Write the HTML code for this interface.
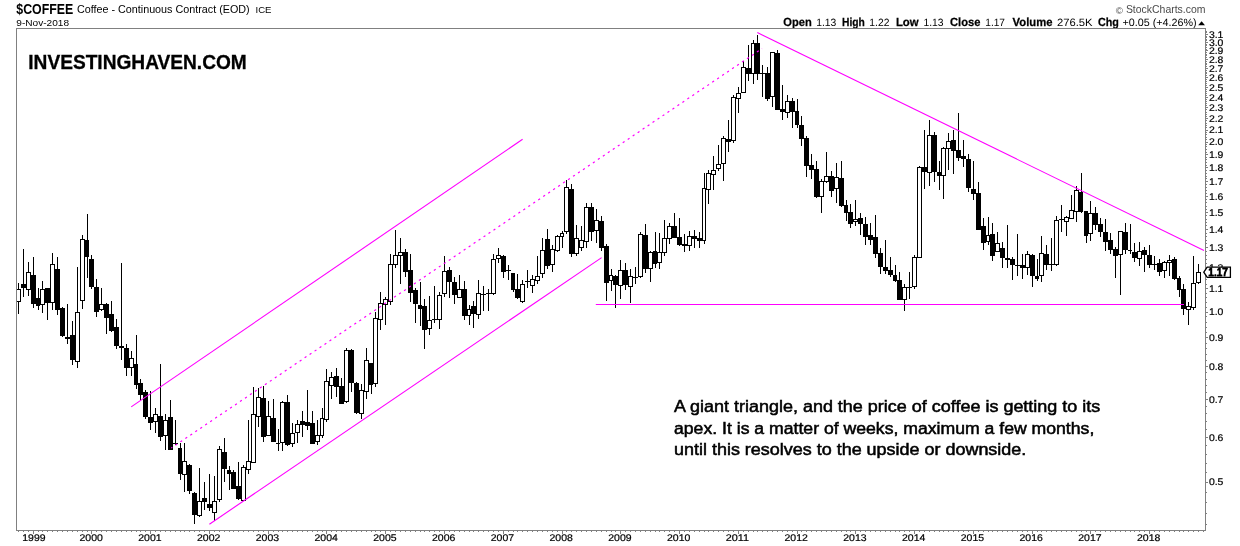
<!DOCTYPE html>
<html><head><meta charset="utf-8"><title>$COFFEE chart</title>
<style>html,body{margin:0;padding:0;background:#fff}svg{display:block}text{font-family:"Liberation Sans",Arial,sans-serif;fill:#000}</style>
</head><body>
<svg width="1240" height="546" viewBox="0 0 1240 546">
<rect width="1240" height="546" fill="#fff"/>
<text x="16.3" y="14" font-size="14.8" font-weight="bold" textLength="57" lengthAdjust="spacingAndGlyphs">$COFFEE</text>
<text x="76.9" y="13.2" font-size="11" textLength="172.8" lengthAdjust="spacingAndGlyphs">Coffee - Continuous Contract (EOD)</text>
<text x="255.5" y="13.2" font-size="9.8" textLength="16" lengthAdjust="spacingAndGlyphs">ICE</text>
<text x="16.3" y="25.6" font-size="9.3" textLength="52.8" lengthAdjust="spacingAndGlyphs">9-Nov-2018</text>
<text x="1115.8" y="13.5" font-size="8.8" style="fill:#4a4a4a" textLength="7.2" lengthAdjust="spacingAndGlyphs">©</text>
<text x="1125.9" y="12.6" font-size="10.8" style="fill:#4a4a4a" textLength="79.6" lengthAdjust="spacingAndGlyphs">StockCharts.com</text>
<text x="783.3" y="26.2" font-size="11.8" font-weight="bold" text-rendering="geometricPrecision" stroke="#000" stroke-width="0.25" textLength="28.4" lengthAdjust="spacingAndGlyphs">Open</text>
<text x="816.2" y="26.2" font-size="10.6" text-rendering="geometricPrecision" textLength="20.1" lengthAdjust="spacingAndGlyphs">1.13</text>
<text x="842" y="26.2" font-size="11.8" font-weight="bold" text-rendering="geometricPrecision" stroke="#000" stroke-width="0.25" textLength="22.8" lengthAdjust="spacingAndGlyphs">High</text>
<text x="869.3" y="26.2" font-size="10.6" text-rendering="geometricPrecision" textLength="20.1" lengthAdjust="spacingAndGlyphs">1.22</text>
<text x="895.9" y="26.2" font-size="11.8" font-weight="bold" text-rendering="geometricPrecision" stroke="#000" stroke-width="0.25" textLength="22.7" lengthAdjust="spacingAndGlyphs">Low</text>
<text x="923.5" y="26.2" font-size="10.6" text-rendering="geometricPrecision" textLength="20.1" lengthAdjust="spacingAndGlyphs">1.13</text>
<text x="950" y="26.2" font-size="11.8" font-weight="bold" text-rendering="geometricPrecision" stroke="#000" stroke-width="0.25" textLength="30.4" lengthAdjust="spacingAndGlyphs">Close</text>
<text x="985.3" y="26.2" font-size="10.6" text-rendering="geometricPrecision" textLength="19.7" lengthAdjust="spacingAndGlyphs">1.17</text>
<text x="1012.6" y="26.2" font-size="11.8" font-weight="bold" text-rendering="geometricPrecision" stroke="#000" stroke-width="0.25" textLength="39.8" lengthAdjust="spacingAndGlyphs">Volume</text>
<text x="1057" y="26.2" font-size="10.6" text-rendering="geometricPrecision" textLength="35.6" lengthAdjust="spacingAndGlyphs">276.5K</text>
<text x="1097.9" y="26.2" font-size="11.8" font-weight="bold" text-rendering="geometricPrecision" stroke="#000" stroke-width="0.25" textLength="20.9" lengthAdjust="spacingAndGlyphs">Chg</text>
<text x="1122.5" y="26.2" font-size="10.6" text-rendering="geometricPrecision" textLength="74.0" lengthAdjust="spacingAndGlyphs">+0.05 (+4.26%)</text>
<path d="M1198.2 25.3 L1205 25.3 L1201.6 21.2 Z" fill="#000"/>
<g shape-rendering="crispEdges">
<rect x="16.5" y="28.5" width="1189" height="502" fill="#fff" stroke="#808080" stroke-width="1"/>
<path d="M18.5 531V532M23.5 531V532M28.5 531V532M33.5 531V534M38.5 531V532M42.5 531V532M47.5 531V532M52.5 531V532M57.5 531V532M62.5 531V532M67.5 531V532M72.5 531V532M77.5 531V532M82.5 531V532M87.5 531V532M91.5 531V534M96.5 531V532M101.5 531V532M106.5 531V532M111.5 531V532M116.5 531V532M121.5 531V532M126.5 531V532M131.5 531V532M136.5 531V532M140.5 531V532M145.5 531V532M150.5 531V534M155.5 531V532M160.5 531V532M165.5 531V532M170.5 531V532M175.5 531V532M180.5 531V532M184.5 531V532M189.5 531V532M194.5 531V532M199.5 531V532M204.5 531V532M209.5 531V534M214.5 531V532M219.5 531V532M224.5 531V532M229.5 531V532M233.5 531V532M238.5 531V532M243.5 531V532M248.5 531V532M253.5 531V532M258.5 531V532M263.5 531V532M268.5 531V534M273.5 531V532M278.5 531V532M282.5 531V532M287.5 531V532M292.5 531V532M297.5 531V532M302.5 531V532M307.5 531V532M312.5 531V532M317.5 531V532M322.5 531V532M326.5 531V534M331.5 531V532M336.5 531V532M341.5 531V532M346.5 531V532M351.5 531V532M356.5 531V532M361.5 531V532M366.5 531V532M371.5 531V532M375.5 531V532M380.5 531V532M385.5 531V534M390.5 531V532M395.5 531V532M400.5 531V532M405.5 531V532M410.5 531V532M415.5 531V532M420.5 531V532M424.5 531V532M429.5 531V532M434.5 531V532M439.5 531V532M444.5 531V534M449.5 531V532M454.5 531V532M459.5 531V532M464.5 531V532M469.5 531V532M473.5 531V532M478.5 531V532M483.5 531V532M488.5 531V532M493.5 531V532M498.5 531V532M503.5 531V534M508.5 531V532M513.5 531V532M517.5 531V532M522.5 531V532M527.5 531V532M532.5 531V532M537.5 531V532M542.5 531V532M547.5 531V532M552.5 531V532M557.5 531V532M562.5 531V534M566.5 531V532M571.5 531V532M576.5 531V532M581.5 531V532M586.5 531V532M591.5 531V532M596.5 531V532M601.5 531V532M606.5 531V532M611.5 531V532M615.5 531V532M620.5 531V534M625.5 531V532M630.5 531V532M635.5 531V532M640.5 531V532M645.5 531V532M650.5 531V532M655.5 531V532M659.5 531V532M664.5 531V532M669.5 531V532M674.5 531V532M679.5 531V534M684.5 531V532M689.5 531V532M694.5 531V532M699.5 531V532M704.5 531V532M708.5 531V532M713.5 531V532M718.5 531V532M723.5 531V532M728.5 531V532M733.5 531V532M738.5 531V534M743.5 531V532M748.5 531V532M753.5 531V532M757.5 531V532M762.5 531V532M767.5 531V532M772.5 531V532M777.5 531V532M782.5 531V532M787.5 531V532M792.5 531V532M797.5 531V534M801.5 531V532M806.5 531V532M811.5 531V532M816.5 531V532M821.5 531V532M826.5 531V532M831.5 531V532M836.5 531V532M841.5 531V532M846.5 531V532M850.5 531V532M855.5 531V534M860.5 531V532M865.5 531V532M870.5 531V532M875.5 531V532M880.5 531V532M885.5 531V532M890.5 531V532M895.5 531V532M899.5 531V532M904.5 531V532M909.5 531V532M914.5 531V534M919.5 531V532M924.5 531V532M929.5 531V532M934.5 531V532M939.5 531V532M943.5 531V532M948.5 531V532M953.5 531V532M958.5 531V532M963.5 531V532M968.5 531V532M973.5 531V534M978.5 531V532M983.5 531V532M988.5 531V532M992.5 531V532M997.5 531V532M1002.5 531V532M1007.5 531V532M1012.5 531V532M1017.5 531V532M1022.5 531V532M1027.5 531V532M1032.5 531V534M1037.5 531V532M1041.5 531V532M1046.5 531V532M1051.5 531V532M1056.5 531V532M1061.5 531V532M1066.5 531V532M1071.5 531V532M1076.5 531V532M1081.5 531V532M1086.5 531V532M1090.5 531V534M1095.5 531V532M1100.5 531V532M1105.5 531V532M1110.5 531V532M1115.5 531V532M1120.5 531V532M1125.5 531V532M1130.5 531V532M1134.5 531V532M1139.5 531V532M1144.5 531V532M1149.5 531V534M1154.5 531V532M1159.5 531V532M1164.5 531V532M1169.5 531V532M1174.5 531V532M1179.5 531V532M1183.5 531V532M1188.5 531V532M1193.5 531V532M1198.5 531V532M1203.5 531V532" stroke="#808080" stroke-width="1" fill="none"/>
<path d="M1206 524.5H1207M1206 513.5H1207M1206 502.5H1207M1206 492.5H1207M1206 482.5H1208M1206 472.5H1207M1206 463.5H1207M1206 454.5H1207M1206 445.5H1207M1206 437.5H1208M1206 429.5H1207M1206 421.5H1207M1206 413.5H1207M1206 406.5H1207M1206 399.5H1208M1206 392.5H1207M1206 385.5H1207M1206 379.5H1207M1206 372.5H1207M1206 366.5H1208M1206 360.5H1207M1206 354.5H1207M1206 348.5H1207M1206 343.5H1207M1206 337.5H1208M1206 332.5H1207M1206 327.5H1207M1206 322.5H1207M1206 316.5H1207M1206 312.5H1208M1206 307.5H1207M1206 302.5H1207M1206 297.5H1207M1206 293.5H1207M1206 288.5H1208M1206 284.5H1207M1206 279.5H1207M1206 275.5H1207M1206 271.5H1207M1206 267.5H1208M1206 263.5H1207M1206 259.5H1207M1206 255.5H1207M1206 251.5H1207M1206 247.5H1208M1206 243.5H1207M1206 240.5H1207M1206 236.5H1207M1206 233.5H1207M1206 229.5H1208M1206 225.5H1207M1206 222.5H1207M1206 219.5H1207M1206 215.5H1207M1206 212.5H1208M1206 209.5H1207M1206 206.5H1207M1206 202.5H1207M1206 199.5H1207M1206 196.5H1208M1206 193.5H1207M1206 190.5H1207M1206 187.5H1207M1206 184.5H1207M1206 181.5H1208M1206 178.5H1207M1206 176.5H1207M1206 173.5H1207M1206 170.5H1207M1206 167.5H1208M1206 165.5H1207M1206 162.5H1207M1206 159.5H1207M1206 157.5H1207M1206 154.5H1208M1206 152.5H1207M1206 149.5H1207M1206 146.5H1207M1206 144.5H1207M1206 142.5H1208M1206 139.5H1207M1206 137.5H1207M1206 134.5H1207M1206 132.5H1207M1206 130.5H1208M1206 127.5H1207M1206 125.5H1207M1206 123.5H1207M1206 120.5H1207M1206 118.5H1208M1206 116.5H1207M1206 114.5H1207M1206 112.5H1207M1206 109.5H1207M1206 107.5H1208M1206 105.5H1207M1206 103.5H1207M1206 101.5H1207M1206 99.5H1207M1206 97.5H1208M1206 95.5H1207M1206 93.5H1207M1206 91.5H1207M1206 89.5H1207M1206 87.5H1208M1206 85.5H1207M1206 83.5H1207M1206 81.5H1207M1206 79.5H1207M1206 77.5H1208M1206 75.5H1207M1206 73.5H1207M1206 72.5H1207M1206 70.5H1207M1206 68.5H1208M1206 66.5H1207M1206 64.5H1207M1206 63.5H1207M1206 61.5H1207M1206 59.5H1208M1206 57.5H1207M1206 55.5H1207M1206 54.5H1207M1206 52.5H1207M1206 50.5H1208M1206 49.5H1207M1206 47.5H1207M1206 45.5H1207M1206 44.5H1207M1206 42.5H1208M1206 40.5H1207M1206 39.5H1207M1206 37.5H1207M1206 36.5H1207M1206 34.5H1208M1206 32.5H1207M1206 31.5H1207" stroke="#808080" stroke-width="1" fill="none"/>
</g>
<text x="22.3" y="541" font-size="9.7" text-rendering="geometricPrecision" stroke="#000" stroke-width="0.2" textLength="23.3" lengthAdjust="spacingAndGlyphs">1999</text>
<text x="79.5" y="541" font-size="9.7" text-rendering="geometricPrecision" stroke="#000" stroke-width="0.2" textLength="23.3" lengthAdjust="spacingAndGlyphs">2000</text>
<text x="138.3" y="541" font-size="9.7" text-rendering="geometricPrecision" stroke="#000" stroke-width="0.2" textLength="23.3" lengthAdjust="spacingAndGlyphs">2001</text>
<text x="197.0" y="541" font-size="9.7" text-rendering="geometricPrecision" stroke="#000" stroke-width="0.2" textLength="23.3" lengthAdjust="spacingAndGlyphs">2002</text>
<text x="255.8" y="541" font-size="9.7" text-rendering="geometricPrecision" stroke="#000" stroke-width="0.2" textLength="23.3" lengthAdjust="spacingAndGlyphs">2003</text>
<text x="314.5" y="541" font-size="9.7" text-rendering="geometricPrecision" stroke="#000" stroke-width="0.2" textLength="23.3" lengthAdjust="spacingAndGlyphs">2004</text>
<text x="373.3" y="541" font-size="9.7" text-rendering="geometricPrecision" stroke="#000" stroke-width="0.2" textLength="23.3" lengthAdjust="spacingAndGlyphs">2005</text>
<text x="432.0" y="541" font-size="9.7" text-rendering="geometricPrecision" stroke="#000" stroke-width="0.2" textLength="23.3" lengthAdjust="spacingAndGlyphs">2006</text>
<text x="490.8" y="541" font-size="9.7" text-rendering="geometricPrecision" stroke="#000" stroke-width="0.2" textLength="23.3" lengthAdjust="spacingAndGlyphs">2007</text>
<text x="549.5" y="541" font-size="9.7" text-rendering="geometricPrecision" stroke="#000" stroke-width="0.2" textLength="23.3" lengthAdjust="spacingAndGlyphs">2008</text>
<text x="608.3" y="541" font-size="9.7" text-rendering="geometricPrecision" stroke="#000" stroke-width="0.2" textLength="23.3" lengthAdjust="spacingAndGlyphs">2009</text>
<text x="667.0" y="541" font-size="9.7" text-rendering="geometricPrecision" stroke="#000" stroke-width="0.2" textLength="23.3" lengthAdjust="spacingAndGlyphs">2010</text>
<text x="725.8" y="541" font-size="9.7" text-rendering="geometricPrecision" stroke="#000" stroke-width="0.2" textLength="23.3" lengthAdjust="spacingAndGlyphs">2011</text>
<text x="784.5" y="541" font-size="9.7" text-rendering="geometricPrecision" stroke="#000" stroke-width="0.2" textLength="23.3" lengthAdjust="spacingAndGlyphs">2012</text>
<text x="843.3" y="541" font-size="9.7" text-rendering="geometricPrecision" stroke="#000" stroke-width="0.2" textLength="23.3" lengthAdjust="spacingAndGlyphs">2013</text>
<text x="902.0" y="541" font-size="9.7" text-rendering="geometricPrecision" stroke="#000" stroke-width="0.2" textLength="23.3" lengthAdjust="spacingAndGlyphs">2014</text>
<text x="960.8" y="541" font-size="9.7" text-rendering="geometricPrecision" stroke="#000" stroke-width="0.2" textLength="23.3" lengthAdjust="spacingAndGlyphs">2015</text>
<text x="1019.5" y="541" font-size="9.7" text-rendering="geometricPrecision" stroke="#000" stroke-width="0.2" textLength="23.3" lengthAdjust="spacingAndGlyphs">2016</text>
<text x="1078.3" y="541" font-size="9.7" text-rendering="geometricPrecision" stroke="#000" stroke-width="0.2" textLength="23.3" lengthAdjust="spacingAndGlyphs">2017</text>
<text x="1137.0" y="541" font-size="9.7" text-rendering="geometricPrecision" stroke="#000" stroke-width="0.2" textLength="23.3" lengthAdjust="spacingAndGlyphs">2018</text>
<text x="1208.9" y="485" font-size="9.7" text-rendering="geometricPrecision" stroke="#000" stroke-width="0.2" textLength="14.5" lengthAdjust="spacingAndGlyphs">0.5</text>
<text x="1208.9" y="441" font-size="9.7" text-rendering="geometricPrecision" stroke="#000" stroke-width="0.2" textLength="14.5" lengthAdjust="spacingAndGlyphs">0.6</text>
<text x="1208.9" y="403" font-size="9.7" text-rendering="geometricPrecision" stroke="#000" stroke-width="0.2" textLength="14.5" lengthAdjust="spacingAndGlyphs">0.7</text>
<text x="1208.9" y="370" font-size="9.7" text-rendering="geometricPrecision" stroke="#000" stroke-width="0.2" textLength="14.5" lengthAdjust="spacingAndGlyphs">0.8</text>
<text x="1208.9" y="341" font-size="9.7" text-rendering="geometricPrecision" stroke="#000" stroke-width="0.2" textLength="14.5" lengthAdjust="spacingAndGlyphs">0.9</text>
<text x="1208.9" y="315" font-size="9.7" text-rendering="geometricPrecision" stroke="#000" stroke-width="0.2" textLength="14.5" lengthAdjust="spacingAndGlyphs">1.0</text>
<text x="1208.9" y="292" font-size="9.7" text-rendering="geometricPrecision" stroke="#000" stroke-width="0.2" textLength="14.5" lengthAdjust="spacingAndGlyphs">1.1</text>
<text x="1208.9" y="271" font-size="9.7" text-rendering="geometricPrecision" stroke="#000" stroke-width="0.2" textLength="14.5" lengthAdjust="spacingAndGlyphs">1.2</text>
<text x="1208.9" y="251" font-size="9.7" text-rendering="geometricPrecision" stroke="#000" stroke-width="0.2" textLength="14.5" lengthAdjust="spacingAndGlyphs">1.3</text>
<text x="1208.9" y="233" font-size="9.7" text-rendering="geometricPrecision" stroke="#000" stroke-width="0.2" textLength="14.5" lengthAdjust="spacingAndGlyphs">1.4</text>
<text x="1208.9" y="216" font-size="9.7" text-rendering="geometricPrecision" stroke="#000" stroke-width="0.2" textLength="14.5" lengthAdjust="spacingAndGlyphs">1.5</text>
<text x="1208.9" y="200" font-size="9.7" text-rendering="geometricPrecision" stroke="#000" stroke-width="0.2" textLength="14.5" lengthAdjust="spacingAndGlyphs">1.6</text>
<text x="1208.9" y="185" font-size="9.7" text-rendering="geometricPrecision" stroke="#000" stroke-width="0.2" textLength="14.5" lengthAdjust="spacingAndGlyphs">1.7</text>
<text x="1208.9" y="171" font-size="9.7" text-rendering="geometricPrecision" stroke="#000" stroke-width="0.2" textLength="14.5" lengthAdjust="spacingAndGlyphs">1.8</text>
<text x="1208.9" y="158" font-size="9.7" text-rendering="geometricPrecision" stroke="#000" stroke-width="0.2" textLength="14.5" lengthAdjust="spacingAndGlyphs">1.9</text>
<text x="1208.9" y="145" font-size="9.7" text-rendering="geometricPrecision" stroke="#000" stroke-width="0.2" textLength="14.5" lengthAdjust="spacingAndGlyphs">2.0</text>
<text x="1208.9" y="133" font-size="9.7" text-rendering="geometricPrecision" stroke="#000" stroke-width="0.2" textLength="14.5" lengthAdjust="spacingAndGlyphs">2.1</text>
<text x="1208.9" y="122" font-size="9.7" text-rendering="geometricPrecision" stroke="#000" stroke-width="0.2" textLength="14.5" lengthAdjust="spacingAndGlyphs">2.2</text>
<text x="1208.9" y="111" font-size="9.7" text-rendering="geometricPrecision" stroke="#000" stroke-width="0.2" textLength="14.5" lengthAdjust="spacingAndGlyphs">2.3</text>
<text x="1208.9" y="101" font-size="9.7" text-rendering="geometricPrecision" stroke="#000" stroke-width="0.2" textLength="14.5" lengthAdjust="spacingAndGlyphs">2.4</text>
<text x="1208.9" y="91" font-size="9.7" text-rendering="geometricPrecision" stroke="#000" stroke-width="0.2" textLength="14.5" lengthAdjust="spacingAndGlyphs">2.5</text>
<text x="1208.9" y="81" font-size="9.7" text-rendering="geometricPrecision" stroke="#000" stroke-width="0.2" textLength="14.5" lengthAdjust="spacingAndGlyphs">2.6</text>
<text x="1208.9" y="72" font-size="9.7" text-rendering="geometricPrecision" stroke="#000" stroke-width="0.2" textLength="14.5" lengthAdjust="spacingAndGlyphs">2.7</text>
<text x="1208.9" y="63" font-size="9.7" text-rendering="geometricPrecision" stroke="#000" stroke-width="0.2" textLength="14.5" lengthAdjust="spacingAndGlyphs">2.8</text>
<text x="1208.9" y="54" font-size="9.7" text-rendering="geometricPrecision" stroke="#000" stroke-width="0.2" textLength="14.5" lengthAdjust="spacingAndGlyphs">2.9</text>
<text x="1208.9" y="46" font-size="9.7" text-rendering="geometricPrecision" stroke="#000" stroke-width="0.2" textLength="14.5" lengthAdjust="spacingAndGlyphs">3.0</text>
<text x="1208.9" y="38" font-size="9.7" text-rendering="geometricPrecision" stroke="#000" stroke-width="0.2" textLength="14.5" lengthAdjust="spacingAndGlyphs">3.1</text>
<g shape-rendering="crispEdges">
<rect x="18" y="283" width="1" height="31" fill="#000"/>
<rect x="16.5" y="289.5" width="4" height="12" fill="#fff" stroke="#000" stroke-width="1"/>
<rect x="23" y="249" width="1" height="48" fill="#000"/>
<rect x="21" y="284" width="5" height="4" fill="#000"/>
<rect x="28" y="262" width="1" height="34" fill="#000"/>
<rect x="26.5" y="272.5" width="4" height="17" fill="#fff" stroke="#000" stroke-width="1"/>
<rect x="33" y="257" width="1" height="51" fill="#000"/>
<rect x="31" y="275" width="5" height="29" fill="#000"/>
<rect x="38" y="288" width="1" height="22" fill="#000"/>
<rect x="36" y="298" width="4" height="8" fill="#000"/>
<rect x="42" y="281" width="1" height="32" fill="#000"/>
<rect x="40.5" y="289.5" width="4" height="15" fill="#fff" stroke="#000" stroke-width="1"/>
<rect x="47" y="288" width="1" height="32" fill="#000"/>
<rect x="45" y="288" width="5" height="15" fill="#000"/>
<rect x="52" y="253" width="1" height="57" fill="#000"/>
<rect x="50.5" y="264.5" width="4" height="38" fill="#fff" stroke="#000" stroke-width="1"/>
<rect x="57" y="257" width="1" height="58" fill="#000"/>
<rect x="55" y="269" width="5" height="41" fill="#000"/>
<rect x="62" y="307" width="1" height="30" fill="#000"/>
<rect x="60" y="308" width="5" height="28" fill="#000"/>
<rect x="67" y="304" width="1" height="40" fill="#000"/>
<rect x="65" y="337" width="5" height="2" fill="#000"/>
<rect x="72" y="321" width="1" height="44" fill="#000"/>
<rect x="70" y="335" width="5" height="25" fill="#000"/>
<rect x="77" y="267" width="1" height="101" fill="#000"/>
<rect x="75.5" y="312.5" width="4" height="49" fill="#fff" stroke="#000" stroke-width="1"/>
<rect x="82" y="235" width="1" height="74" fill="#000"/>
<rect x="80.5" y="239.5" width="4" height="61" fill="#fff" stroke="#000" stroke-width="1"/>
<rect x="87" y="214" width="1" height="64" fill="#000"/>
<rect x="85" y="240" width="4" height="17" fill="#000"/>
<rect x="91" y="255" width="1" height="34" fill="#000"/>
<rect x="89" y="259" width="5" height="28" fill="#000"/>
<rect x="96" y="279" width="1" height="38" fill="#000"/>
<rect x="94" y="287" width="5" height="25" fill="#000"/>
<rect x="101" y="288" width="1" height="23" fill="#000"/>
<rect x="99.5" y="304.5" width="4" height="5" fill="#fff" stroke="#000" stroke-width="1"/>
<rect x="106" y="303" width="1" height="31" fill="#000"/>
<rect x="104" y="304" width="5" height="14" fill="#000"/>
<rect x="111" y="301" width="1" height="31" fill="#000"/>
<rect x="109" y="314" width="5" height="17" fill="#000"/>
<rect x="116" y="319" width="1" height="30" fill="#000"/>
<rect x="114" y="327" width="5" height="19" fill="#000"/>
<rect x="121" y="263" width="1" height="97" fill="#000"/>
<rect x="119" y="346" width="5" height="2" fill="#000"/>
<rect x="126" y="344" width="1" height="32" fill="#000"/>
<rect x="124" y="348" width="5" height="20" fill="#000"/>
<rect x="131" y="351" width="1" height="25" fill="#000"/>
<rect x="129.5" y="358.5" width="4" height="9" fill="#fff" stroke="#000" stroke-width="1"/>
<rect x="136" y="335" width="1" height="54" fill="#000"/>
<rect x="134" y="364" width="4" height="21" fill="#000"/>
<rect x="140" y="379" width="1" height="21" fill="#000"/>
<rect x="138" y="383" width="5" height="12" fill="#000"/>
<rect x="145" y="390" width="1" height="29" fill="#000"/>
<rect x="143" y="392" width="5" height="25" fill="#000"/>
<rect x="150" y="391" width="1" height="39" fill="#000"/>
<rect x="148" y="417" width="5" height="6" fill="#000"/>
<rect x="155" y="408" width="1" height="25" fill="#000"/>
<rect x="153.5" y="414.5" width="4" height="7" fill="#fff" stroke="#000" stroke-width="1"/>
<rect x="160" y="364" width="1" height="77" fill="#000"/>
<rect x="158" y="416" width="5" height="21" fill="#000"/>
<rect x="165" y="414" width="1" height="36" fill="#000"/>
<rect x="163.5" y="420.5" width="4" height="15" fill="#fff" stroke="#000" stroke-width="1"/>
<rect x="170" y="400" width="1" height="50" fill="#000"/>
<rect x="168" y="417" width="5" height="33" fill="#000"/>
<rect x="175" y="420" width="1" height="25" fill="#000"/>
<rect x="173" y="443" width="5" height="1" fill="#000"/>
<rect x="180" y="443" width="1" height="37" fill="#000"/>
<rect x="178" y="448" width="4" height="26" fill="#000"/>
<rect x="184" y="443" width="1" height="49" fill="#000"/>
<rect x="182.5" y="461.5" width="4" height="13" fill="#fff" stroke="#000" stroke-width="1"/>
<rect x="189" y="464" width="1" height="30" fill="#000"/>
<rect x="187" y="465" width="5" height="26" fill="#000"/>
<rect x="194" y="492" width="1" height="32" fill="#000"/>
<rect x="192" y="493" width="5" height="22" fill="#000"/>
<rect x="199" y="468" width="1" height="49" fill="#000"/>
<rect x="197.5" y="501.5" width="4" height="14" fill="#fff" stroke="#000" stroke-width="1"/>
<rect x="204" y="482" width="1" height="28" fill="#000"/>
<rect x="202" y="498" width="5" height="4" fill="#000"/>
<rect x="209" y="474" width="1" height="37" fill="#000"/>
<rect x="207" y="504" width="5" height="4" fill="#000"/>
<rect x="214" y="476" width="1" height="45" fill="#000"/>
<rect x="212.5" y="501.5" width="4" height="11" fill="#fff" stroke="#000" stroke-width="1"/>
<rect x="219" y="446" width="1" height="56" fill="#000"/>
<rect x="217.5" y="449.5" width="4" height="50" fill="#fff" stroke="#000" stroke-width="1"/>
<rect x="224" y="438" width="1" height="44" fill="#000"/>
<rect x="222" y="452" width="5" height="17" fill="#000"/>
<rect x="229" y="466" width="1" height="24" fill="#000"/>
<rect x="227" y="470" width="4" height="4" fill="#000"/>
<rect x="233" y="470" width="1" height="19" fill="#000"/>
<rect x="231" y="472" width="5" height="17" fill="#000"/>
<rect x="238" y="462" width="1" height="38" fill="#000"/>
<rect x="236" y="486" width="5" height="13" fill="#000"/>
<rect x="243" y="465" width="1" height="36" fill="#000"/>
<rect x="241.5" y="467.5" width="4" height="33" fill="#fff" stroke="#000" stroke-width="1"/>
<rect x="248" y="420" width="1" height="54" fill="#000"/>
<rect x="246.5" y="461.5" width="4" height="8" fill="#fff" stroke="#000" stroke-width="1"/>
<rect x="253" y="387" width="1" height="76" fill="#000"/>
<rect x="251.5" y="414.5" width="4" height="48" fill="#fff" stroke="#000" stroke-width="1"/>
<rect x="258" y="388" width="1" height="39" fill="#000"/>
<rect x="256.5" y="397.5" width="4" height="19" fill="#fff" stroke="#000" stroke-width="1"/>
<rect x="263" y="386" width="1" height="56" fill="#000"/>
<rect x="261" y="398" width="5" height="39" fill="#000"/>
<rect x="268" y="401" width="1" height="35" fill="#000"/>
<rect x="266.5" y="416.5" width="4" height="19" fill="#fff" stroke="#000" stroke-width="1"/>
<rect x="273" y="399" width="1" height="43" fill="#000"/>
<rect x="271" y="418" width="5" height="24" fill="#000"/>
<rect x="278" y="429" width="1" height="22" fill="#000"/>
<rect x="276" y="443" width="4" height="1" fill="#000"/>
<rect x="282" y="401" width="1" height="50" fill="#000"/>
<rect x="280.5" y="402.5" width="4" height="40" fill="#fff" stroke="#000" stroke-width="1"/>
<rect x="287" y="395" width="1" height="51" fill="#000"/>
<rect x="285" y="402" width="5" height="43" fill="#000"/>
<rect x="292" y="423" width="1" height="24" fill="#000"/>
<rect x="290.5" y="433.5" width="4" height="10" fill="#fff" stroke="#000" stroke-width="1"/>
<rect x="297" y="420" width="1" height="23" fill="#000"/>
<rect x="295.5" y="424.5" width="4" height="8" fill="#fff" stroke="#000" stroke-width="1"/>
<rect x="302" y="411" width="1" height="26" fill="#000"/>
<rect x="300" y="421" width="5" height="4" fill="#000"/>
<rect x="307" y="390" width="1" height="40" fill="#000"/>
<rect x="305" y="422" width="5" height="4" fill="#000"/>
<rect x="312" y="411" width="1" height="33" fill="#000"/>
<rect x="310" y="423" width="5" height="21" fill="#000"/>
<rect x="317" y="420" width="1" height="25" fill="#000"/>
<rect x="315.5" y="435.5" width="4" height="6" fill="#fff" stroke="#000" stroke-width="1"/>
<rect x="322" y="408" width="1" height="30" fill="#000"/>
<rect x="320.5" y="418.5" width="3" height="17" fill="#fff" stroke="#000" stroke-width="1"/>
<rect x="326" y="369" width="1" height="53" fill="#000"/>
<rect x="324.5" y="381.5" width="4" height="38" fill="#fff" stroke="#000" stroke-width="1"/>
<rect x="331" y="372" width="1" height="27" fill="#000"/>
<rect x="329.5" y="377.5" width="4" height="8" fill="#fff" stroke="#000" stroke-width="1"/>
<rect x="336" y="368" width="1" height="29" fill="#000"/>
<rect x="334" y="376" width="5" height="11" fill="#000"/>
<rect x="341" y="378" width="1" height="26" fill="#000"/>
<rect x="339" y="386" width="5" height="18" fill="#000"/>
<rect x="346" y="348" width="1" height="55" fill="#000"/>
<rect x="344.5" y="350.5" width="4" height="51" fill="#fff" stroke="#000" stroke-width="1"/>
<rect x="351" y="349" width="1" height="43" fill="#000"/>
<rect x="349" y="350" width="5" height="33" fill="#000"/>
<rect x="356" y="382" width="1" height="32" fill="#000"/>
<rect x="354" y="383" width="5" height="30" fill="#000"/>
<rect x="361" y="384" width="1" height="35" fill="#000"/>
<rect x="359.5" y="390.5" width="4" height="23" fill="#fff" stroke="#000" stroke-width="1"/>
<rect x="366" y="348" width="1" height="51" fill="#000"/>
<rect x="364.5" y="360.5" width="4" height="31" fill="#fff" stroke="#000" stroke-width="1"/>
<rect x="371" y="363" width="1" height="31" fill="#000"/>
<rect x="369" y="363" width="4" height="22" fill="#000"/>
<rect x="375" y="312" width="1" height="75" fill="#000"/>
<rect x="373.5" y="318.5" width="4" height="65" fill="#fff" stroke="#000" stroke-width="1"/>
<rect x="380" y="292" width="1" height="38" fill="#000"/>
<rect x="378.5" y="303.5" width="4" height="16" fill="#fff" stroke="#000" stroke-width="1"/>
<rect x="385" y="297" width="1" height="28" fill="#000"/>
<rect x="383.5" y="299.5" width="4" height="5" fill="#fff" stroke="#000" stroke-width="1"/>
<rect x="390" y="254" width="1" height="51" fill="#000"/>
<rect x="388.5" y="264.5" width="4" height="37" fill="#fff" stroke="#000" stroke-width="1"/>
<rect x="395" y="230" width="1" height="38" fill="#000"/>
<rect x="393.5" y="255.5" width="4" height="9" fill="#fff" stroke="#000" stroke-width="1"/>
<rect x="400" y="238" width="1" height="46" fill="#000"/>
<rect x="398.5" y="252.5" width="4" height="3" fill="#fff" stroke="#000" stroke-width="1"/>
<rect x="405" y="249" width="1" height="28" fill="#000"/>
<rect x="403" y="252" width="5" height="20" fill="#000"/>
<rect x="410" y="254" width="1" height="48" fill="#000"/>
<rect x="408" y="270" width="5" height="23" fill="#000"/>
<rect x="415" y="288" width="1" height="35" fill="#000"/>
<rect x="413" y="290" width="5" height="14" fill="#000"/>
<rect x="420" y="282" width="1" height="44" fill="#000"/>
<rect x="418" y="305" width="4" height="4" fill="#000"/>
<rect x="424" y="299" width="1" height="50" fill="#000"/>
<rect x="422" y="306" width="5" height="24" fill="#000"/>
<rect x="429" y="296" width="1" height="39" fill="#000"/>
<rect x="427.5" y="320.5" width="4" height="8" fill="#fff" stroke="#000" stroke-width="1"/>
<rect x="434" y="286" width="1" height="37" fill="#000"/>
<rect x="432" y="319" width="5" height="1" fill="#000"/>
<rect x="439" y="292" width="1" height="37" fill="#000"/>
<rect x="437.5" y="295.5" width="4" height="24" fill="#fff" stroke="#000" stroke-width="1"/>
<rect x="444" y="256" width="1" height="41" fill="#000"/>
<rect x="442.5" y="271.5" width="4" height="22" fill="#fff" stroke="#000" stroke-width="1"/>
<rect x="449" y="267" width="1" height="31" fill="#000"/>
<rect x="447" y="270" width="5" height="12" fill="#000"/>
<rect x="454" y="277" width="1" height="27" fill="#000"/>
<rect x="452" y="282" width="5" height="13" fill="#000"/>
<rect x="459" y="275" width="1" height="23" fill="#000"/>
<rect x="457.5" y="289.5" width="4" height="8" fill="#fff" stroke="#000" stroke-width="1"/>
<rect x="464" y="281" width="1" height="39" fill="#000"/>
<rect x="462" y="289" width="5" height="27" fill="#000"/>
<rect x="469" y="305" width="1" height="20" fill="#000"/>
<rect x="467.5" y="309.5" width="3" height="6" fill="#fff" stroke="#000" stroke-width="1"/>
<rect x="473" y="301" width="1" height="27" fill="#000"/>
<rect x="471" y="306" width="5" height="8" fill="#000"/>
<rect x="478" y="280" width="1" height="39" fill="#000"/>
<rect x="476.5" y="293.5" width="4" height="21" fill="#fff" stroke="#000" stroke-width="1"/>
<rect x="483" y="286" width="1" height="25" fill="#000"/>
<rect x="481" y="294" width="5" height="1" fill="#000"/>
<rect x="488" y="289" width="1" height="22" fill="#000"/>
<rect x="486" y="293" width="5" height="1" fill="#000"/>
<rect x="493" y="254" width="1" height="41" fill="#000"/>
<rect x="491.5" y="259.5" width="4" height="34" fill="#fff" stroke="#000" stroke-width="1"/>
<rect x="498" y="248" width="1" height="15" fill="#000"/>
<rect x="496.5" y="255.5" width="4" height="3" fill="#fff" stroke="#000" stroke-width="1"/>
<rect x="503" y="255" width="1" height="23" fill="#000"/>
<rect x="501" y="256" width="5" height="16" fill="#000"/>
<rect x="508" y="265" width="1" height="15" fill="#000"/>
<rect x="506" y="270" width="5" height="1" fill="#000"/>
<rect x="513" y="273" width="1" height="19" fill="#000"/>
<rect x="511" y="273" width="4" height="17" fill="#000"/>
<rect x="517" y="274" width="1" height="25" fill="#000"/>
<rect x="515" y="289" width="5" height="9" fill="#000"/>
<rect x="522" y="280" width="1" height="23" fill="#000"/>
<rect x="520.5" y="284.5" width="4" height="17" fill="#fff" stroke="#000" stroke-width="1"/>
<rect x="527" y="270" width="1" height="18" fill="#000"/>
<rect x="525" y="281" width="5" height="1" fill="#000"/>
<rect x="532" y="275" width="1" height="18" fill="#000"/>
<rect x="530.5" y="279.5" width="4" height="6" fill="#fff" stroke="#000" stroke-width="1"/>
<rect x="537" y="256" width="1" height="28" fill="#000"/>
<rect x="535.5" y="276.5" width="4" height="4" fill="#fff" stroke="#000" stroke-width="1"/>
<rect x="542" y="238" width="1" height="40" fill="#000"/>
<rect x="540.5" y="250.5" width="4" height="23" fill="#fff" stroke="#000" stroke-width="1"/>
<rect x="547" y="229" width="1" height="40" fill="#000"/>
<rect x="545" y="239" width="5" height="27" fill="#000"/>
<rect x="552" y="245" width="1" height="27" fill="#000"/>
<rect x="550.5" y="249.5" width="4" height="15" fill="#fff" stroke="#000" stroke-width="1"/>
<rect x="557" y="235" width="1" height="17" fill="#000"/>
<rect x="555.5" y="236.5" width="4" height="14" fill="#fff" stroke="#000" stroke-width="1"/>
<rect x="562" y="231" width="1" height="17" fill="#000"/>
<rect x="560.5" y="233.5" width="3" height="3" fill="#fff" stroke="#000" stroke-width="1"/>
<rect x="566" y="180" width="1" height="54" fill="#000"/>
<rect x="564.5" y="187.5" width="4" height="44" fill="#fff" stroke="#000" stroke-width="1"/>
<rect x="571" y="184" width="1" height="73" fill="#000"/>
<rect x="569" y="189" width="5" height="65" fill="#000"/>
<rect x="576" y="225" width="1" height="31" fill="#000"/>
<rect x="574.5" y="238.5" width="4" height="15" fill="#fff" stroke="#000" stroke-width="1"/>
<rect x="581" y="226" width="1" height="25" fill="#000"/>
<rect x="579.5" y="240.5" width="4" height="7" fill="#fff" stroke="#000" stroke-width="1"/>
<rect x="586" y="203" width="1" height="45" fill="#000"/>
<rect x="584.5" y="207.5" width="4" height="34" fill="#fff" stroke="#000" stroke-width="1"/>
<rect x="591" y="203" width="1" height="38" fill="#000"/>
<rect x="589" y="207" width="5" height="25" fill="#000"/>
<rect x="596" y="209" width="1" height="34" fill="#000"/>
<rect x="594.5" y="220.5" width="4" height="10" fill="#fff" stroke="#000" stroke-width="1"/>
<rect x="601" y="216" width="1" height="35" fill="#000"/>
<rect x="599" y="221" width="5" height="27" fill="#000"/>
<rect x="606" y="244" width="1" height="57" fill="#000"/>
<rect x="604" y="246" width="5" height="37" fill="#000"/>
<rect x="611" y="269" width="1" height="22" fill="#000"/>
<rect x="609.5" y="275.5" width="3" height="5" fill="#fff" stroke="#000" stroke-width="1"/>
<rect x="615" y="275" width="1" height="33" fill="#000"/>
<rect x="613" y="276" width="5" height="9" fill="#000"/>
<rect x="620" y="260" width="1" height="39" fill="#000"/>
<rect x="618.5" y="270.5" width="4" height="15" fill="#fff" stroke="#000" stroke-width="1"/>
<rect x="625" y="263" width="1" height="27" fill="#000"/>
<rect x="623" y="270" width="5" height="15" fill="#000"/>
<rect x="630" y="269" width="1" height="34" fill="#000"/>
<rect x="628.5" y="276.5" width="4" height="10" fill="#fff" stroke="#000" stroke-width="1"/>
<rect x="635" y="267" width="1" height="17" fill="#000"/>
<rect x="633" y="277" width="5" height="1" fill="#000"/>
<rect x="640" y="232" width="1" height="46" fill="#000"/>
<rect x="638.5" y="234.5" width="4" height="42" fill="#fff" stroke="#000" stroke-width="1"/>
<rect x="645" y="224" width="1" height="49" fill="#000"/>
<rect x="643" y="235" width="5" height="34" fill="#000"/>
<rect x="650" y="251" width="1" height="31" fill="#000"/>
<rect x="648.5" y="252.5" width="4" height="16" fill="#fff" stroke="#000" stroke-width="1"/>
<rect x="655" y="232" width="1" height="36" fill="#000"/>
<rect x="653" y="251" width="4" height="13" fill="#000"/>
<rect x="659" y="233" width="1" height="36" fill="#000"/>
<rect x="657.5" y="252.5" width="4" height="10" fill="#fff" stroke="#000" stroke-width="1"/>
<rect x="664" y="220" width="1" height="36" fill="#000"/>
<rect x="662.5" y="238.5" width="4" height="14" fill="#fff" stroke="#000" stroke-width="1"/>
<rect x="669" y="223" width="1" height="21" fill="#000"/>
<rect x="667.5" y="226.5" width="4" height="12" fill="#fff" stroke="#000" stroke-width="1"/>
<rect x="674" y="213" width="1" height="25" fill="#000"/>
<rect x="672" y="226" width="5" height="12" fill="#000"/>
<rect x="679" y="218" width="1" height="28" fill="#000"/>
<rect x="677" y="237" width="5" height="8" fill="#000"/>
<rect x="684" y="234" width="1" height="18" fill="#000"/>
<rect x="682" y="244" width="5" height="2" fill="#000"/>
<rect x="689" y="231" width="1" height="20" fill="#000"/>
<rect x="687.5" y="236.5" width="4" height="9" fill="#fff" stroke="#000" stroke-width="1"/>
<rect x="694" y="230" width="1" height="18" fill="#000"/>
<rect x="692" y="236" width="5" height="3" fill="#000"/>
<rect x="699" y="232" width="1" height="16" fill="#000"/>
<rect x="697" y="238" width="5" height="3" fill="#000"/>
<rect x="704" y="173" width="1" height="71" fill="#000"/>
<rect x="702.5" y="188.5" width="3" height="52" fill="#fff" stroke="#000" stroke-width="1"/>
<rect x="708" y="170" width="1" height="34" fill="#000"/>
<rect x="706.5" y="173.5" width="4" height="16" fill="#fff" stroke="#000" stroke-width="1"/>
<rect x="713" y="156" width="1" height="34" fill="#000"/>
<rect x="711.5" y="170.5" width="4" height="4" fill="#fff" stroke="#000" stroke-width="1"/>
<rect x="718" y="145" width="1" height="26" fill="#000"/>
<rect x="716.5" y="164.5" width="4" height="4" fill="#fff" stroke="#000" stroke-width="1"/>
<rect x="723" y="136" width="1" height="45" fill="#000"/>
<rect x="721.5" y="138.5" width="4" height="25" fill="#fff" stroke="#000" stroke-width="1"/>
<rect x="728" y="120" width="1" height="32" fill="#000"/>
<rect x="726" y="139" width="5" height="3" fill="#000"/>
<rect x="733" y="95" width="1" height="48" fill="#000"/>
<rect x="731.5" y="97.5" width="4" height="43" fill="#fff" stroke="#000" stroke-width="1"/>
<rect x="738" y="87" width="1" height="26" fill="#000"/>
<rect x="736.5" y="93.5" width="4" height="5" fill="#fff" stroke="#000" stroke-width="1"/>
<rect x="743" y="61" width="1" height="32" fill="#000"/>
<rect x="741.5" y="67.5" width="4" height="25" fill="#fff" stroke="#000" stroke-width="1"/>
<rect x="748" y="45" width="1" height="36" fill="#000"/>
<rect x="746" y="68" width="5" height="6" fill="#000"/>
<rect x="753" y="40" width="1" height="44" fill="#000"/>
<rect x="751.5" y="43.5" width="3" height="30" fill="#fff" stroke="#000" stroke-width="1"/>
<rect x="757" y="35" width="1" height="45" fill="#000"/>
<rect x="755" y="43" width="5" height="31" fill="#000"/>
<rect x="762" y="65" width="1" height="32" fill="#000"/>
<rect x="760" y="73" width="5" height="1" fill="#000"/>
<rect x="767" y="67" width="1" height="34" fill="#000"/>
<rect x="765" y="73" width="5" height="26" fill="#000"/>
<rect x="772" y="52" width="1" height="55" fill="#000"/>
<rect x="770.5" y="52.5" width="4" height="44" fill="#fff" stroke="#000" stroke-width="1"/>
<rect x="777" y="50" width="1" height="60" fill="#000"/>
<rect x="775" y="53" width="5" height="57" fill="#000"/>
<rect x="782" y="85" width="1" height="35" fill="#000"/>
<rect x="780" y="109" width="5" height="3" fill="#000"/>
<rect x="787" y="95" width="1" height="23" fill="#000"/>
<rect x="785.5" y="101.5" width="4" height="11" fill="#fff" stroke="#000" stroke-width="1"/>
<rect x="792" y="98" width="1" height="30" fill="#000"/>
<rect x="790" y="101" width="5" height="11" fill="#000"/>
<rect x="797" y="99" width="1" height="29" fill="#000"/>
<rect x="795" y="111" width="4" height="14" fill="#000"/>
<rect x="801" y="116" width="1" height="30" fill="#000"/>
<rect x="799" y="125" width="5" height="14" fill="#000"/>
<rect x="806" y="136" width="1" height="41" fill="#000"/>
<rect x="804" y="138" width="5" height="28" fill="#000"/>
<rect x="811" y="154" width="1" height="25" fill="#000"/>
<rect x="809" y="165" width="5" height="5" fill="#000"/>
<rect x="816" y="161" width="1" height="37" fill="#000"/>
<rect x="814" y="169" width="5" height="28" fill="#000"/>
<rect x="821" y="179" width="1" height="34" fill="#000"/>
<rect x="819.5" y="181.5" width="4" height="15" fill="#fff" stroke="#000" stroke-width="1"/>
<rect x="826" y="152" width="1" height="31" fill="#000"/>
<rect x="824.5" y="176.5" width="4" height="5" fill="#fff" stroke="#000" stroke-width="1"/>
<rect x="831" y="171" width="1" height="26" fill="#000"/>
<rect x="829" y="176" width="5" height="15" fill="#000"/>
<rect x="836" y="163" width="1" height="40" fill="#000"/>
<rect x="834.5" y="177.5" width="4" height="11" fill="#fff" stroke="#000" stroke-width="1"/>
<rect x="841" y="161" width="1" height="46" fill="#000"/>
<rect x="839" y="178" width="5" height="28" fill="#000"/>
<rect x="846" y="200" width="1" height="21" fill="#000"/>
<rect x="844" y="205" width="4" height="8" fill="#000"/>
<rect x="850" y="204" width="1" height="24" fill="#000"/>
<rect x="848" y="212" width="5" height="12" fill="#000"/>
<rect x="855" y="200" width="1" height="26" fill="#000"/>
<rect x="853.5" y="219.5" width="4" height="2" fill="#fff" stroke="#000" stroke-width="1"/>
<rect x="860" y="213" width="1" height="22" fill="#000"/>
<rect x="858" y="218" width="5" height="6" fill="#000"/>
<rect x="865" y="217" width="1" height="28" fill="#000"/>
<rect x="863" y="224" width="5" height="13" fill="#000"/>
<rect x="870" y="223" width="1" height="22" fill="#000"/>
<rect x="868" y="235" width="5" height="5" fill="#000"/>
<rect x="875" y="215" width="1" height="43" fill="#000"/>
<rect x="873" y="237" width="5" height="17" fill="#000"/>
<rect x="880" y="248" width="1" height="26" fill="#000"/>
<rect x="878" y="253" width="5" height="14" fill="#000"/>
<rect x="885" y="240" width="1" height="34" fill="#000"/>
<rect x="883" y="267" width="5" height="4" fill="#000"/>
<rect x="890" y="257" width="1" height="20" fill="#000"/>
<rect x="888" y="270" width="5" height="5" fill="#000"/>
<rect x="895" y="265" width="1" height="17" fill="#000"/>
<rect x="893" y="275" width="4" height="6" fill="#000"/>
<rect x="899" y="272" width="1" height="28" fill="#000"/>
<rect x="897" y="280" width="5" height="20" fill="#000"/>
<rect x="904" y="284" width="1" height="27" fill="#000"/>
<rect x="902.5" y="287.5" width="4" height="12" fill="#fff" stroke="#000" stroke-width="1"/>
<rect x="909" y="272" width="1" height="27" fill="#000"/>
<rect x="907" y="287" width="5" height="1" fill="#000"/>
<rect x="914" y="255" width="1" height="34" fill="#000"/>
<rect x="912.5" y="257.5" width="4" height="29" fill="#fff" stroke="#000" stroke-width="1"/>
<rect x="919" y="166" width="1" height="92" fill="#000"/>
<rect x="917.5" y="167.5" width="4" height="90" fill="#fff" stroke="#000" stroke-width="1"/>
<rect x="924" y="130" width="1" height="59" fill="#000"/>
<rect x="922" y="167" width="5" height="5" fill="#000"/>
<rect x="929" y="120" width="1" height="66" fill="#000"/>
<rect x="927.5" y="135.5" width="4" height="37" fill="#fff" stroke="#000" stroke-width="1"/>
<rect x="934" y="132" width="1" height="50" fill="#000"/>
<rect x="932" y="135" width="5" height="37" fill="#000"/>
<rect x="939" y="161" width="1" height="29" fill="#000"/>
<rect x="937" y="172" width="4" height="4" fill="#000"/>
<rect x="943" y="147" width="1" height="52" fill="#000"/>
<rect x="941.5" y="148.5" width="4" height="27" fill="#fff" stroke="#000" stroke-width="1"/>
<rect x="948" y="133" width="1" height="37" fill="#000"/>
<rect x="946.5" y="141.5" width="4" height="7" fill="#fff" stroke="#000" stroke-width="1"/>
<rect x="953" y="130" width="1" height="44" fill="#000"/>
<rect x="951" y="140" width="5" height="11" fill="#000"/>
<rect x="958" y="113" width="1" height="48" fill="#000"/>
<rect x="956" y="150" width="5" height="8" fill="#000"/>
<rect x="963" y="140" width="1" height="27" fill="#000"/>
<rect x="961" y="156" width="5" height="3" fill="#000"/>
<rect x="968" y="154" width="1" height="38" fill="#000"/>
<rect x="966" y="159" width="5" height="29" fill="#000"/>
<rect x="973" y="161" width="1" height="39" fill="#000"/>
<rect x="971" y="189" width="5" height="5" fill="#000"/>
<rect x="978" y="182" width="1" height="48" fill="#000"/>
<rect x="976" y="193" width="5" height="37" fill="#000"/>
<rect x="983" y="218" width="1" height="32" fill="#000"/>
<rect x="981" y="226" width="5" height="17" fill="#000"/>
<rect x="988" y="217" width="1" height="28" fill="#000"/>
<rect x="986.5" y="235.5" width="3" height="6" fill="#fff" stroke="#000" stroke-width="1"/>
<rect x="992" y="223" width="1" height="38" fill="#000"/>
<rect x="990" y="234" width="5" height="22" fill="#000"/>
<rect x="997" y="232" width="1" height="20" fill="#000"/>
<rect x="995.5" y="243.5" width="4" height="8" fill="#fff" stroke="#000" stroke-width="1"/>
<rect x="1002" y="242" width="1" height="26" fill="#000"/>
<rect x="1000" y="248" width="5" height="10" fill="#000"/>
<rect x="1007" y="225" width="1" height="43" fill="#000"/>
<rect x="1005" y="258" width="5" height="2" fill="#000"/>
<rect x="1012" y="257" width="1" height="23" fill="#000"/>
<rect x="1010" y="259" width="5" height="6" fill="#000"/>
<rect x="1017" y="234" width="1" height="42" fill="#000"/>
<rect x="1015" y="265" width="5" height="1" fill="#000"/>
<rect x="1022" y="254" width="1" height="25" fill="#000"/>
<rect x="1020" y="265" width="5" height="3" fill="#000"/>
<rect x="1027" y="251" width="1" height="24" fill="#000"/>
<rect x="1025.5" y="254.5" width="4" height="13" fill="#fff" stroke="#000" stroke-width="1"/>
<rect x="1032" y="254" width="1" height="33" fill="#000"/>
<rect x="1030" y="255" width="5" height="21" fill="#000"/>
<rect x="1037" y="259" width="1" height="22" fill="#000"/>
<rect x="1035" y="276" width="4" height="3" fill="#000"/>
<rect x="1041" y="236" width="1" height="46" fill="#000"/>
<rect x="1039.5" y="253.5" width="4" height="22" fill="#fff" stroke="#000" stroke-width="1"/>
<rect x="1046" y="245" width="1" height="25" fill="#000"/>
<rect x="1044" y="254" width="5" height="11" fill="#000"/>
<rect x="1051" y="238" width="1" height="33" fill="#000"/>
<rect x="1049" y="264" width="5" height="1" fill="#000"/>
<rect x="1056" y="216" width="1" height="50" fill="#000"/>
<rect x="1054.5" y="220.5" width="4" height="44" fill="#fff" stroke="#000" stroke-width="1"/>
<rect x="1061" y="205" width="1" height="27" fill="#000"/>
<rect x="1059" y="219" width="5" height="1" fill="#000"/>
<rect x="1066" y="216" width="1" height="20" fill="#000"/>
<rect x="1064.5" y="217.5" width="4" height="4" fill="#fff" stroke="#000" stroke-width="1"/>
<rect x="1071" y="195" width="1" height="24" fill="#000"/>
<rect x="1069.5" y="210.5" width="4" height="8" fill="#fff" stroke="#000" stroke-width="1"/>
<rect x="1076" y="186" width="1" height="36" fill="#000"/>
<rect x="1074.5" y="190.5" width="4" height="21" fill="#fff" stroke="#000" stroke-width="1"/>
<rect x="1081" y="173" width="1" height="40" fill="#000"/>
<rect x="1079" y="192" width="4" height="20" fill="#000"/>
<rect x="1086" y="211" width="1" height="32" fill="#000"/>
<rect x="1084" y="211" width="4" height="25" fill="#000"/>
<rect x="1090" y="201" width="1" height="40" fill="#000"/>
<rect x="1088.5" y="213.5" width="4" height="20" fill="#fff" stroke="#000" stroke-width="1"/>
<rect x="1095" y="207" width="1" height="23" fill="#000"/>
<rect x="1093" y="213" width="5" height="12" fill="#000"/>
<rect x="1100" y="218" width="1" height="19" fill="#000"/>
<rect x="1098" y="224" width="5" height="8" fill="#000"/>
<rect x="1105" y="219" width="1" height="32" fill="#000"/>
<rect x="1103" y="232" width="5" height="10" fill="#000"/>
<rect x="1110" y="233" width="1" height="21" fill="#000"/>
<rect x="1108" y="240" width="5" height="10" fill="#000"/>
<rect x="1115" y="247" width="1" height="31" fill="#000"/>
<rect x="1113" y="249" width="5" height="7" fill="#000"/>
<rect x="1120" y="231" width="1" height="64" fill="#000"/>
<rect x="1118.5" y="231.5" width="4" height="23" fill="#fff" stroke="#000" stroke-width="1"/>
<rect x="1125" y="223" width="1" height="31" fill="#000"/>
<rect x="1123" y="232" width="5" height="18" fill="#000"/>
<rect x="1130" y="224" width="1" height="30" fill="#000"/>
<rect x="1128" y="250" width="4" height="1" fill="#000"/>
<rect x="1134" y="243" width="1" height="19" fill="#000"/>
<rect x="1132" y="252" width="5" height="6" fill="#000"/>
<rect x="1139" y="242" width="1" height="24" fill="#000"/>
<rect x="1137.5" y="251.5" width="4" height="7" fill="#fff" stroke="#000" stroke-width="1"/>
<rect x="1144" y="247" width="1" height="25" fill="#000"/>
<rect x="1142" y="250" width="5" height="5" fill="#000"/>
<rect x="1149" y="245" width="1" height="23" fill="#000"/>
<rect x="1147" y="255" width="5" height="10" fill="#000"/>
<rect x="1154" y="256" width="1" height="14" fill="#000"/>
<rect x="1152" y="264" width="5" height="1" fill="#000"/>
<rect x="1159" y="259" width="1" height="17" fill="#000"/>
<rect x="1157" y="263" width="5" height="9" fill="#000"/>
<rect x="1164" y="261" width="1" height="17" fill="#000"/>
<rect x="1162.5" y="262.5" width="4" height="8" fill="#fff" stroke="#000" stroke-width="1"/>
<rect x="1169" y="255" width="1" height="21" fill="#000"/>
<rect x="1167.5" y="260.5" width="4" height="2" fill="#fff" stroke="#000" stroke-width="1"/>
<rect x="1174" y="257" width="1" height="23" fill="#000"/>
<rect x="1172" y="259" width="5" height="20" fill="#000"/>
<rect x="1179" y="276" width="1" height="21" fill="#000"/>
<rect x="1177" y="278" width="4" height="12" fill="#000"/>
<rect x="1183" y="284" width="1" height="31" fill="#000"/>
<rect x="1181" y="289" width="5" height="20" fill="#000"/>
<rect x="1188" y="302" width="1" height="23" fill="#000"/>
<rect x="1186.5" y="306.5" width="4" height="3" fill="#fff" stroke="#000" stroke-width="1"/>
<rect x="1193" y="256" width="1" height="54" fill="#000"/>
<rect x="1191.5" y="283.5" width="4" height="24" fill="#fff" stroke="#000" stroke-width="1"/>
<rect x="1198" y="264" width="1" height="20" fill="#000"/>
<rect x="1196.5" y="272.5" width="4" height="10" fill="#fff" stroke="#000" stroke-width="1"/>
</g>
<g stroke="#ff00ff" stroke-width="1.1" fill="none" stroke-linecap="butt">
<line x1="131.2" y1="406.9" x2="522.6" y2="139.3"/>
<line x1="209.4" y1="524.2" x2="601.6" y2="257.6"/>
<line x1="171.3" y1="448" x2="762" y2="48.6" stroke-dasharray="2.2 3.8" stroke-dashoffset="1.05" stroke-width="1.2"/>
<line x1="595.8" y1="304.5" x2="1184" y2="304.5"/>
<line x1="757.3" y1="32.5" x2="1204" y2="250.5"/>
</g>
<rect x="16.5" y="28.5" width="1189" height="502" fill="none" stroke="#808080" stroke-width="1" shape-rendering="crispEdges"/>
<path d="M1203.8 272.2 L1207.2 267.2 L1230.4 267.2 L1230.4 277.3 L1207.2 277.3 Z" fill="#fff" stroke="#000" stroke-width="1.3"/>
<text x="1208.3" y="275.8" font-size="10.5" stroke="#000" stroke-width="1.1" stroke-linejoin="round" textLength="19.6" lengthAdjust="spacingAndGlyphs">1.17</text>
<text x="28.3" y="69.1" font-size="19.4" font-weight="bold" stroke="#000" stroke-width="0.3" textLength="218.5" lengthAdjust="spacingAndGlyphs">INVESTINGHAVEN.COM</text>
<g font-size="15.8" stroke="#000" stroke-width="0.5">
<text x="674" y="412.4" textLength="426.3" lengthAdjust="spacingAndGlyphs">A giant triangle, and the price of coffee is getting to its</text>
<text x="674" y="433.5" textLength="420.3" lengthAdjust="spacingAndGlyphs">apex. It is a matter of weeks, maximum a few months,</text>
<text x="674" y="454.6" textLength="352.3" lengthAdjust="spacingAndGlyphs">until this resolves to the upside or downside.</text>
</g>
</svg></body></html>
